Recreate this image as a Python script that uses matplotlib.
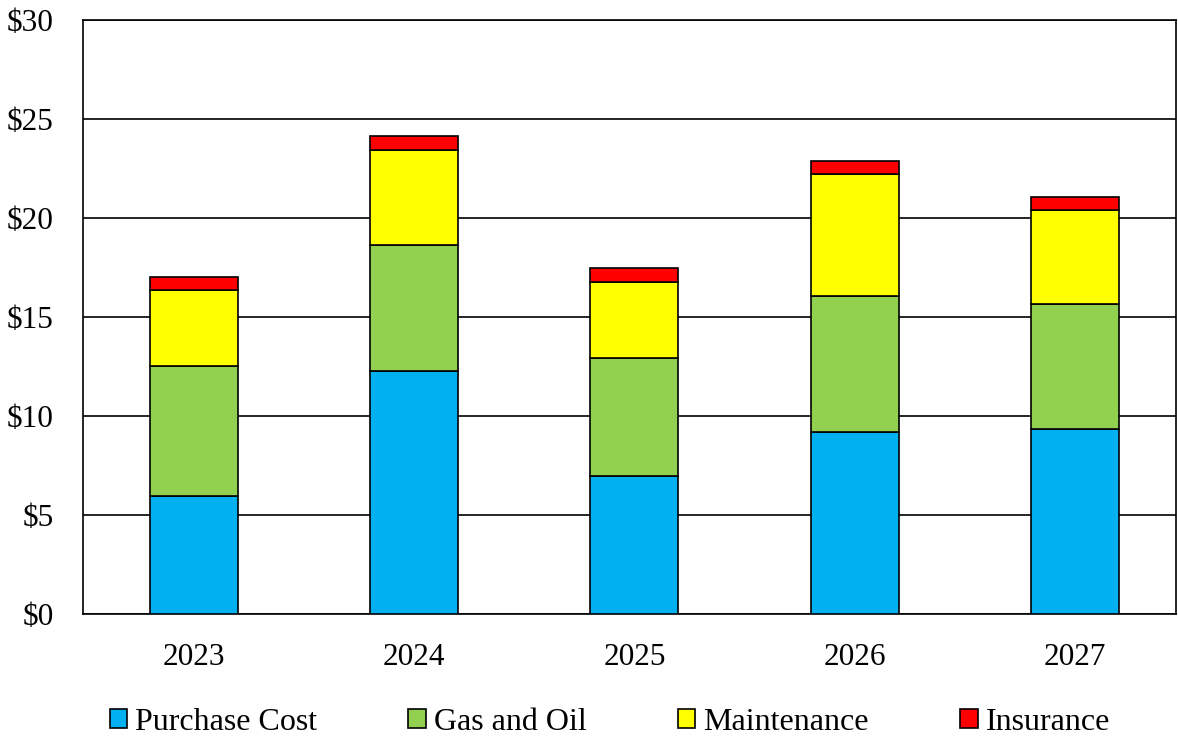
import matplotlib.pyplot as plt
import numpy as np

years = ["2023", "2024", "2025", "2026", "2027"]
purchase = [5.96, 12.27, 6.97, 9.19, 9.34]
gas_oil = [6.57, 6.37, 5.96, 6.87, 6.32]
maintenance = [3.83, 4.79, 3.84, 6.16, 4.74]
insurance = [0.66, 0.71, 0.70, 0.66, 0.66]

series = [
    ("Purchase Cost", purchase, "#00b0f0"),
    ("Gas and Oil", gas_oil, "#92d050"),
    ("Maintenance", maintenance, "#ffff00"),
    ("Insurance", insurance, "#ff0000"),
]

plt.rcParams["font.family"] = ["Liberation Serif", "DejaVu Serif"]

fig = plt.figure(figsize=(11.78, 7.44), dpi=100)
ax = fig.add_axes([83 / 1178, 1 - 614 / 744, (1176 - 83) / 1178, 594 / 744])

x = np.arange(len(years))
bottom = np.zeros(len(years))
for name, vals, color in series:
    ax.bar(x, vals, 0.4, bottom=bottom, color=color, edgecolor="black",
           linewidth=1.2, label=name, zorder=3)
    bottom += np.array(vals)

ax.set_ylim(0, 30)
ax.set_xlim(-0.505, len(years) - 0.54)
ax.set_yticks(range(0, 31, 5))
ax.set_yticklabels(["$" + str(v) for v in range(0, 31, 5)])
ax.set_xticks(x)
ax.set_xticklabels(years)
ax.tick_params(axis="both", length=0, labelsize=22.5)
ax.tick_params(axis="x", pad=21)
ax.tick_params(axis="y", pad=21)
ax.yaxis.grid(True, color="black", linewidth=1.2, zorder=0)
for s in ax.spines.values():
    s.set_color("black")
    s.set_linewidth(1.2)

ax.legend(loc="upper center", bbox_to_anchor=(0.482, -0.12), ncol=4,
          frameon=False, fontsize=23, handlelength=0.55, handleheight=0.55,
          handletextpad=0.25, columnspacing=2.85, borderaxespad=0.3)

fig.savefig("out.png", dpi=100)
